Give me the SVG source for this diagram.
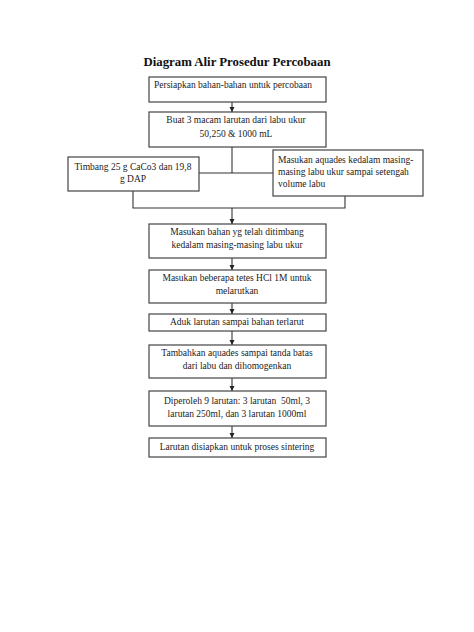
<svg xmlns="http://www.w3.org/2000/svg" width="474" height="632" viewBox="0 0 474 632">
<defs>
<style>
.box{fill:#fff;stroke:#444;stroke-width:1.2}
.ln{fill:none;stroke:#333;stroke-width:1.1}
text{font-family:"Liberation Serif","Times New Roman",serif;font-size:9.5px;fill:#222}
.c{text-anchor:middle}
.title{font-size:12.8px;font-weight:bold;fill:#111}
</style>
<marker id="ah" markerWidth="6" markerHeight="6" refX="5" refY="3" orient="auto" markerUnits="userSpaceOnUse">
<path d="M0,0.5 L5,3 L0,5.5 Z" fill="#222"/>
</marker>
</defs>
<rect width="474" height="632" fill="#fff"/>
<text class="title c" x="237" y="66">Diagram Alir Prosedur Percobaan</text>
<g id="connectors">
<line class="ln" x1="232" y1="102" x2="232" y2="112" marker-end="url(#ah)"/>
<line class="ln" x1="232" y1="147" x2="232" y2="173"/>
<line class="ln" x1="199" y1="173" x2="273" y2="173"/>
<polyline class="ln" points="133,191 133,208 345,208 345,196"/>
<line class="ln" x1="232" y1="208" x2="232" y2="224" marker-end="url(#ah)"/>
<line class="ln" x1="232" y1="258" x2="232" y2="270" marker-end="url(#ah)"/>
<line class="ln" x1="232" y1="303" x2="232" y2="314" marker-end="url(#ah)"/>
<line class="ln" x1="232" y1="331" x2="232" y2="345" marker-end="url(#ah)"/>
<line class="ln" x1="232" y1="378" x2="232" y2="391" marker-end="url(#ah)"/>
<line class="ln" x1="232" y1="426" x2="232" y2="438" marker-end="url(#ah)"/>
</g>
<g id="n1"><rect class="box" x="149" y="77" width="177" height="25"/><text x="154" y="88">Persiapkan bahan-bahan untuk percobaan</text></g>
<g id="n2"><rect class="box" x="149" y="112" width="177" height="35"/><text class="c" x="236" y="123">Buat 3 macam larutan dari labu ukur</text><text class="c" x="236" y="137">50,250 &amp; 1000 mL</text></g>
<g id="n3"><rect class="box" x="68" y="157" width="131" height="34"/><text class="c" x="133" y="170">Timbang 25 g CaCo3 dan 19,8</text><text class="c" x="133" y="182">g DAP</text></g>
<g id="n4"><rect class="box" x="273" y="150" width="150" height="46"/><text x="278" y="163">Masukan aquades kedalam masing-</text><text x="278" y="175">masing labu ukur sampai setengah</text><text x="278" y="187">volume labu</text></g>
<g id="n5"><rect class="box" x="149" y="224" width="177" height="34"/><text class="c" x="237" y="235">Masukan bahan yg telah ditimbang</text><text class="c" x="237" y="248">kedalam masing-masing labu ukur</text></g>
<g id="n6"><rect class="box" x="149" y="270" width="177" height="33"/><text class="c" x="237" y="281">Masukan beberapa tetes HCl 1M untuk</text><text class="c" x="237" y="294">melarutkan</text></g>
<g id="n7"><rect class="box" x="149" y="314" width="177" height="17"/><text class="c" x="237" y="325">Aduk larutan sampai bahan terlarut</text></g>
<g id="n8"><rect class="box" x="149" y="345" width="177" height="33"/><text class="c" x="237" y="356">Tambahkan aquades sampai tanda batas</text><text class="c" x="237" y="369">dari labu dan dihomogenkan</text></g>
<g id="n9"><rect class="box" x="149" y="391" width="177" height="35"/><text class="c" x="237" y="404" style="white-space:pre">Diperoleh 9 larutan: 3 larutan  50ml, 3</text><text class="c" x="237" y="417">larutan 250ml, dan 3 larutan 1000ml</text></g>
<g id="n10"><rect class="box" x="149" y="438" width="177" height="19"/><text class="c" x="237" y="450">Larutan disiapkan untuk proses sintering</text></g>
</svg>
